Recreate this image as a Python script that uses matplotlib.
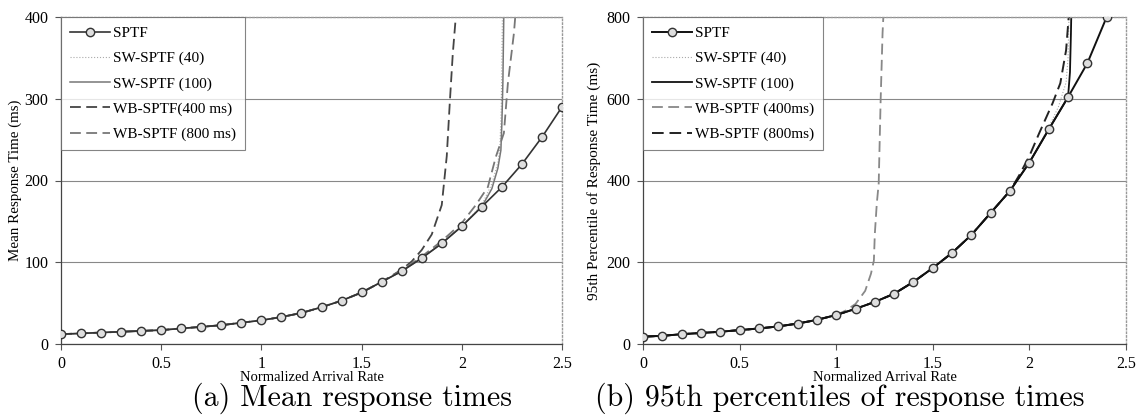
import numpy as np
import matplotlib
matplotlib.use("Agg")
import matplotlib.pyplot as plt

# ---- data ----
rate = [round(0.1 * i, 1) for i in range(26)]

# (a) mean response time, ms; the variants follow SPTF until they break away
mean_sptf = [12, 13, 14, 15, 16, 17, 19, 21, 23, 26, 29, 33, 38, 45, 53, 63,
             76, 89, 105, 123, 144, 168, 192, 220, 253, 290]
mean_sw40_x = rate[:22] + [2.15, 2.18, 2.19, 2.197, 2.203]
mean_sw40_y = mean_sptf[:21] + [170, 196, 222, 240, 290, 410]
mean_sw100_x = rate[:22] + [2.15, 2.18, 2.195, 2.2, 2.205, 2.21]
mean_sw100_y = mean_sptf[:22] + [190, 215, 237, 270, 320, 410]
mean_wb400_x = rate[:17] + [1.7, 1.75, 1.8, 1.85, 1.9, 1.925, 1.94, 1.955, 1.97, 1.975]
mean_wb400_y = mean_sptf[:17] + [91, 101, 115, 134, 170, 230, 295, 355, 400, 420]
mean_wb800_x = rate[:17] + [1.7, 1.8, 1.9, 2.0, 2.07, 2.13, 2.17, 2.21, 2.23, 2.26, 2.27]
mean_wb800_y = mean_sptf[:17] + [90, 107, 126, 148, 170, 192, 229, 258, 319, 380, 410]

# (b) 95th percentile response time, ms
p95_sptf_x = rate[:25]
p95_sptf = [18, 20, 24, 27, 30, 34, 38, 43, 50, 59, 71, 86, 103, 123, 152, 186,
            223, 267, 321, 375, 444, 525, 604, 687, 800]
p95_sw40_x = rate[:21] + [2.1, 2.15, 2.19, 2.2, 2.205]
p95_sw40_y = p95_sptf[:21] + [530, 580, 640, 700, 810]
p95_sw100_x = rate[:23] + [2.21, 2.215, 2.217]
p95_sw100_y = p95_sptf[:23] + [665, 760, 810]
p95_wb400_x = rate[:11] + [1.05, 1.1, 1.15, 1.18, 1.195, 1.2, 1.21, 1.22, 1.23, 1.24, 1.245]
p95_wb400_y = p95_sptf[:11] + [82, 98, 130, 172, 204, 270, 343, 393, 596, 761, 810]
p95_wb800_x = rate[:20] + [1.95, 2.0, 2.05, 2.12, 2.16, 2.19, 2.205]
p95_wb800_y = p95_sptf[:20] + [415, 460, 515, 589, 638, 719, 810]

SERIF = ["Liberation Serif", "DejaVu Serif"]
plt.rcParams["font.family"] = SERIF

fig = plt.figure(figsize=(11.38, 4.17), dpi=100)
axA = fig.add_axes([61 / 1138, 73 / 417, 501 / 1138, 327 / 417])
axB = fig.add_axes([643 / 1138, 73 / 417, 483 / 1138, 327 / 417])

mk = dict(marker="o", ms=6, mfc="#dedede", mec="#333333", mew=1.0)

# panel (a)
axA.plot(rate, mean_sptf, color="#333333", lw=1.2, label="SPTF", zorder=5, **mk)
axA.plot(mean_sw40_x, mean_sw40_y, color="#aaaaaa", lw=0.8, ls=":", label="SW-SPTF (40)")
axA.plot(mean_sw100_x, mean_sw100_y, color="#777777", lw=1.1, label="SW-SPTF (100)")
axA.plot(mean_wb400_x, mean_wb400_y, color="#444444", lw=1.3, ls=(0, (6, 3)),
         label="WB-SPTF(400 ms)")
axA.plot(mean_wb800_x, mean_wb800_y, color="#777777", lw=1.3, ls=(0, (6, 3)),
         label="WB-SPTF (800 ms)")
axA.set_ylim(0, 400)
axA.set_yticks([0, 100, 200, 300, 400])
axA.set_ylabel("Mean Response Time (ms)", fontsize=10.8, labelpad=2)

# panel (b)
axB.plot(p95_sptf_x, p95_sptf, color="#111111", lw=1.4, label="SPTF", zorder=5, **mk)
axB.plot(p95_sw40_x, p95_sw40_y, color="#aaaaaa", lw=0.8, ls=":", label="SW-SPTF (40)")
axB.plot(p95_sw100_x, p95_sw100_y, color="#111111", lw=1.3, label="SW-SPTF (100)")
axB.plot(p95_wb400_x, p95_wb400_y, color="#888888", lw=1.3, ls=(0, (6, 3)),
         label="WB-SPTF (400ms)")
axB.plot(p95_wb800_x, p95_wb800_y, color="#222222", lw=1.4, ls=(0, (6, 3)),
         label="WB-SPTF (800ms)")
axB.set_ylim(0, 800)
axB.set_yticks([0, 200, 400, 600, 800])
axB.set_ylabel("95th Percentile of Response Time (ms)", fontsize=11, labelpad=4)

for ax in (axA, axB):
    ax.set_xlim(0, 2.5)
    ax.set_xticks([0, 0.5, 1, 1.5, 2, 2.5])
    ax.set_xticklabels(["0", "0.5", "1", "1.5", "2", "2.5"])
    ax.tick_params(labelsize=11.5, length=4, width=0.8, color="#555555", pad=5)
    ax.grid(axis="y", color="#888888", lw=0.8)
    ax.set_axisbelow(True)
    for s in ("top", "right"):
        ax.spines[s].set_color("#999999")
        ax.spines[s].set_linestyle(":")
        ax.spines[s].set_linewidth(1.0)
    for s in ("left", "bottom"):
        ax.spines[s].set_color("#444444")
        ax.spines[s].set_linewidth(0.9)
    ax.set_xlabel("Normalized Arrival Rate", fontsize=10.5, labelpad=-1)
    leg = ax.legend(loc="upper left", fontsize=11, frameon=True, fancybox=False,
                    borderaxespad=0, handlelength=2.6, labelspacing=0.75,
                    handletextpad=0.2, borderpad=0.6)
    leg.get_frame().set_edgecolor("#666666")
    leg.get_frame().set_linewidth(0.8)

fig.text(352 / 1138, 1 - 398 / 417, "(a) Mean response times", family="cmr10",
         fontsize=21.5, ha="center", va="center")
fig.text(840 / 1138, 1 - 398 / 417, "(b) 95th percentiles of response times",
         family="cmr10", fontsize=21.5, ha="center", va="center")

fig.savefig("out.png", dpi=100)
